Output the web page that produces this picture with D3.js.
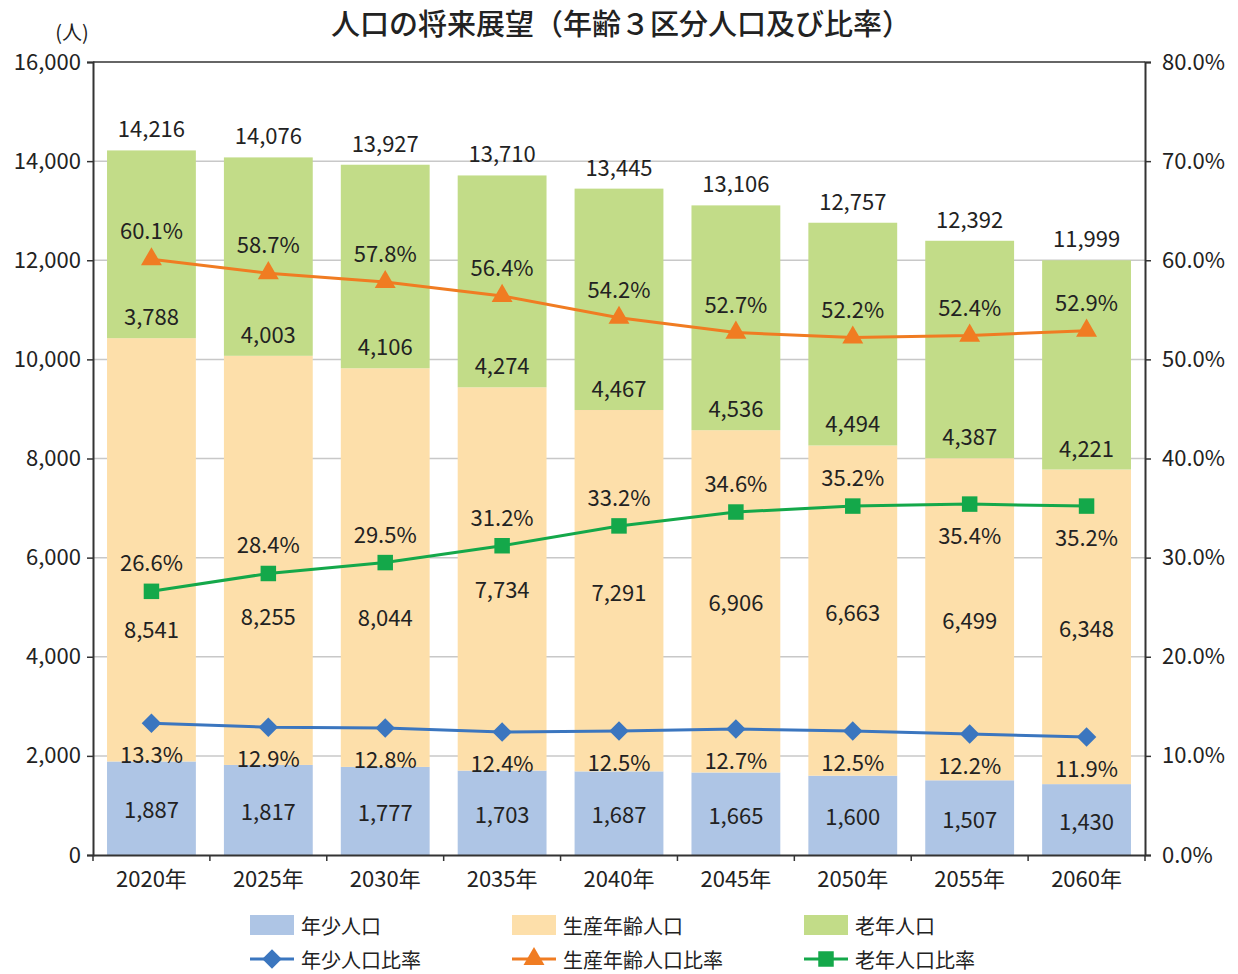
<!DOCTYPE html>
<html>
<head>
<meta charset="utf-8">
<script src="https://cdn.jsdelivr.net/npm/d3@7"></script>
<style>
  body { margin: 0; background: #fff; }
  text { font-family: "Noto Sans CJK JP", "Noto Sans", sans-serif; fill: #222; }
</style>
</head>
<body>
<div id="chart"></div>
<script>
// data
const years = ["2020年", "2025年", "2030年", "2035年", "2040年", "2045年", "2050年", "2055年", "2060年"];
const young = [1887, 1817, 1777, 1703, 1687, 1665, 1600, 1507, 1430];
const working = [8541, 8255, 8044, 7734, 7291, 6906, 6663, 6499, 6348];
const elderly = [3788, 4003, 4106, 4274, 4467, 4536, 4494, 4387, 4221];
const totals = [14216, 14076, 13927, 13710, 13445, 13106, 12757, 12392, 11999];
const youngPct = [13.3, 12.9, 12.8, 12.4, 12.5, 12.7, 12.5, 12.2, 11.9];
const workingPct = [60.1, 58.7, 57.8, 56.4, 54.2, 52.7, 52.2, 52.4, 52.9];
const elderlyPct = [26.6, 28.4, 29.5, 31.2, 33.2, 34.6, 35.2, 35.4, 35.2];
const leftTicks = [0, 2000, 4000, 6000, 8000, 10000, 12000, 14000, 16000];
const rightTicks = [0, 10, 20, 30, 40, 50, 60, 70, 80];

// label placement tweaks (px), like the hand-moved labels in the original
const workingLabelNudge = [78, 55, 48, 9, 0, 0, 0, 0, 0];
const elderlyPctBelow = [false, false, false, false, false, false, false, true, true];

const width = 1238, height = 974;
const margin = {top: 62, left: 93, right: 93, bottom: 119};

const colors = {young: "#aec5e5", working: "#fddfaa", elderly: "#c2dc88",
  youngLine: "#3b76bf", workingLine: "#f07c22", elderlyLine: "#14a84a"};

const svg = d3.select("#chart").append("svg")
  .attr("width", width)
  .attr("height", height);

const x = d3.scaleBand()
  .domain(years)
  .range([margin.left, width - margin.right])
  .paddingInner(0.24)
  .paddingOuter(0.12);

const y = d3.scaleLinear()
  .domain([0, 16000])
  .range([height - margin.bottom, margin.top]);

const yPct = d3.scaleLinear()
  .domain([0, 80])
  .range([height - margin.bottom, margin.top]);

// gridlines
svg.append("g")
  .selectAll("line")
  .data(leftTicks.slice(1, -1))
  .join("line")
    .attr("x1", margin.left)
    .attr("x2", width - margin.right)
    .attr("y1", d => y(d))
    .attr("y2", d => y(d))
    .attr("stroke", "#c8c8c8")
    .attr("stroke-width", 1.5);

// stacked bars
const rows = years.map((yr, i) => ({year: yr, young: young[i], working: working[i], elderly: elderly[i]}));
const stack = d3.stack().keys(["young", "working", "elderly"])(rows);

svg.append("g")
  .selectAll("g")
  .data(stack)
  .join("g")
    .attr("fill", d => colors[d.key])
  .selectAll("rect")
  .data(d => d)
  .join("rect")
    .attr("x", d => x(d.data.year))
    .attr("width", x.bandwidth())
    .attr("y", d => y(d[1]))
    .attr("height", d => y(d[0]) - y(d[1]));

// plot frame
svg.append("line")
  .attr("x1", margin.left).attr("x2", width - margin.right)
  .attr("y1", margin.top).attr("y2", margin.top)
  .attr("stroke", "#333").attr("stroke-width", 1.5);

// axes
const fmt = d3.format(",");
const yAxis = svg.append("g")
  .attr("transform", `translate(${margin.left},0)`)
  .call(d3.axisLeft(y).tickValues(leftTicks).tickFormat(fmt).tickSize(6).tickPadding(6));

const yAxisR = svg.append("g")
  .attr("transform", `translate(${width - margin.right},0)`)
  .call(d3.axisRight(yPct).tickValues(rightTicks).tickFormat(d => d.toFixed(1) + "%").tickSize(6).tickPadding(11));

const xAxis = svg.append("g")
  .attr("transform", `translate(0,${height - margin.bottom})`)
  .call(d3.axisBottom(x).tickSize(0).tickPadding(16));

// x ticks sit on the band edges
const step = x.step();
svg.append("g")
  .selectAll("line")
  .data(d3.range(years.length + 1))
  .join("line")
    .attr("x1", i => margin.left + i * step)
    .attr("x2", i => margin.left + i * step)
    .attr("y1", height - margin.bottom)
    .attr("y2", height - margin.bottom + 6)
    .attr("stroke", "#333")
    .attr("stroke-width", 1.5);

[yAxis, yAxisR, xAxis].forEach(a => {
  a.select(".domain").attr("stroke", "#333").attr("stroke-width", 2);
  a.selectAll(".tick line").attr("stroke", "#333").attr("stroke-width", 1.5);
  a.selectAll("text").attr("font-size", 22).attr("fill", "#222")
    .attr("font-family", "'Noto Sans CJK JP', sans-serif");
});

// bar labels
const cx = yr => x(yr) + x.bandwidth() / 2;
const labels = svg.append("g").attr("font-size", 22).attr("text-anchor", "middle");

stack[0].forEach((d, i) => {
  labels.append("text")
    .attr("x", cx(years[i]))
    .attr("y", (y(d[0]) + y(d[1])) / 2)
    .attr("dominant-baseline", "central")
    .text(fmt(young[i]));
});
stack[1].forEach((d, i) => {
  labels.append("text")
    .attr("x", cx(years[i]))
    .attr("y", (y(d[0]) + y(d[1])) / 2 + workingLabelNudge[i])
    .attr("dominant-baseline", "central")
    .text(fmt(working[i]));
});
stack[2].forEach((d, i) => {
  labels.append("text")
    .attr("x", cx(years[i]))
    .attr("y", y(d[0]) - 23)
    .attr("dominant-baseline", "central")
    .text(fmt(elderly[i]));
  labels.append("text")
    .attr("x", cx(years[i]))
    .attr("y", y(d[1]) - 23)
    .attr("dominant-baseline", "central")
    .text(fmt(totals[i]));
});

// ratio lines
const line = d3.line().x((d, i) => cx(years[i])).y(d => yPct(d));
const series = [
  {vals: youngPct, color: colors.youngLine, sym: d3.symbolSquare, size: 190, rot: 45, below: () => true},
  {vals: workingPct, color: colors.workingLine, sym: d3.symbolTriangle, size: 190, rot: 0, below: () => false},
  {vals: elderlyPct, color: colors.elderlyLine, sym: d3.symbolSquare, size: 240, rot: 0, below: i => elderlyPctBelow[i]}
];

series.forEach(s => {
  svg.append("path")
    .datum(s.vals)
    .attr("d", line)
    .attr("fill", "none")
    .attr("stroke", s.color)
    .attr("stroke-width", 3);

  svg.append("g")
    .selectAll("path")
    .data(s.vals)
    .join("path")
      .attr("transform", (d, i) => `translate(${cx(years[i])},${yPct(d)}) rotate(${s.rot})`)
      .attr("d", d3.symbol(s.sym, s.size))
      .attr("fill", s.color);

  svg.append("g")
    .attr("font-size", 22)
    .attr("text-anchor", "middle")
    .selectAll("text")
    .data(s.vals)
    .join("text")
      .attr("x", (d, i) => cx(years[i]))
      .attr("y", (d, i) => yPct(d) + (s.below(i) ? 30 : -30))
      .attr("dominant-baseline", "central")
      .text(d => d.toFixed(1) + "%");
});

// title and unit
svg.append("text")
  .attr("x", 621)
  .attr("y", 22)
  .attr("text-anchor", "middle")
  .attr("dominant-baseline", "central")
  .attr("font-size", 29)
  .attr("font-weight", 500)
  .text("人口の将来展望（年齢３区分人口及び比率）");

svg.append("text")
  .attr("x", 72)
  .attr("y", 31)
  .attr("text-anchor", "middle")
  .attr("dominant-baseline", "central")
  .attr("font-size", 20)
  .text("(人)");

// legend
const legendItems = [
  {label: "年少人口", color: colors.young, type: "box"},
  {label: "生産年齢人口", color: colors.working, type: "box"},
  {label: "老年人口", color: colors.elderly, type: "box"},
  {label: "年少人口比率", color: colors.youngLine, type: "line", sym: d3.symbolSquare, size: 190, rot: 45},
  {label: "生産年齢人口比率", color: colors.workingLine, type: "line", sym: d3.symbolTriangle, size: 190, rot: 0},
  {label: "老年人口比率", color: colors.elderlyLine, type: "line", sym: d3.symbolSquare, size: 240, rot: 0}
];
const legendX = [250, 512, 804];
const legendY = [925, 959];

legendItems.forEach((item, i) => {
  const lx = legendX[i % 3], ly = legendY[Math.floor(i / 3)];
  const g = svg.append("g").attr("transform", `translate(${lx},${ly})`);
  if (item.type === "box") {
    g.append("rect").attr("x", 0).attr("y", -10).attr("width", 44).attr("height", 20).attr("fill", item.color);
  } else {
    g.append("line").attr("x1", 0).attr("x2", 44).attr("y1", 0).attr("y2", 0)
      .attr("stroke", item.color).attr("stroke-width", 3);
    g.append("path").attr("transform", `translate(22,0) rotate(${item.rot})`)
      .attr("d", d3.symbol(item.sym, item.size)).attr("fill", item.color);
  }
  g.append("text")
    .attr("x", 51)
    .attr("y", 0)
    .attr("dominant-baseline", "central")
    .attr("font-size", 20)
    .text(item.label);
});
</script>
</body>
</html>
